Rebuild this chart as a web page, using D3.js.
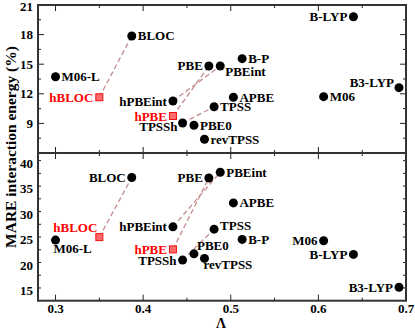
<!DOCTYPE html>
<html>
<head>
<meta charset="utf-8">
<script src="https://cdn.jsdelivr.net/npm/d3@7"></script>
<style>
  body { margin: 0; background: #fff; }
  text { font-family: "Liberation Serif", "Times New Roman", serif; font-weight: bold; }
</style>
</head>
<body>
<div id="chart"></div>
<script>
// methods and their values
const methods = ["M06-L", "BLOC", "hBLOC", "hPBEint", "hPBE", "TPSSh", "PBE0", "revTPSS",
                 "PBE", "PBEint", "B-P", "APBE", "TPSS", "B-LYP", "M06", "B3-LYP"];
const lambdaVals = [0.300, 0.387, 0.350, 0.434, 0.434, 0.445, 0.458, 0.470,
                    0.475, 0.488, 0.513, 0.503, 0.481, 0.640, 0.606, 0.692];
const topVals = [13.73, 17.86, 11.65, 11.27, 9.75, 9.04, 8.81, 7.39,
                 14.82, 14.82, 15.56, 11.65, 10.69, 19.81, 11.71, 12.62];
const bottomVals = [24.9, 37.18, 25.48, 27.5, 23.07, 20.97, 22.2, 21.3,
                    37.1, 38.22, 25.03, 32.2, 27.05, 22.09, 24.76, 15.63];
const hybrids = ["hBLOC", "hPBE"];
const links = [["hBLOC", "BLOC"], ["hPBE", "PBE"], ["hPBEint", "PBEint"], ["TPSSh", "TPSS"]];

const xTicks = [0.3, 0.4, 0.5, 0.6, 0.7];
const topTicks = [9, 12, 15, 18, 21];
const bottomTicks = [15, 20, 25, 30, 35, 40];

// label placement: [dx, dy, anchor]
const R = [6, 4.5, "start"], L = [-6, 4.5, "end"];
const topLabelPos = {
  "M06-L": R, "BLOC": R, "hBLOC": L, "hPBEint": L, "hPBE": L, "TPSSh": [-5, 8, "end"],
  "PBE0": R, "revTPSS": R, "PBE": L, "PBEint": [5, 10, "start"], "B-P": R, "APBE": R,
  "TPSS": R, "B-LYP": L, "M06": R, "B3-LYP": [-5, -1, "end"]
};
const bottomLabelPos = {
  "M06-L": [-2, 13, "start"], "BLOC": L, "hBLOC": [-2, -5, "end"], "hPBEint": L, "hPBE": L,
  "TPSSh": [-6, 4.5, "end"], "PBE0": [3, -4, "start"], "revTPSS": [-1, 11, "start"],
  "PBE": L, "PBEint": R, "B-P": R, "APBE": R, "TPSS": [6, 1, "start"],
  "B-LYP": L, "M06": L, "B3-LYP": L
};

const width = 415, height = 329;
const left = 38, right = 406;
const svg = d3.select("#chart").append("svg").attr("width", width).attr("height", height);

const x = d3.scaleLinear().domain([0.28, 0.70]).range([left, right]);

const panels = [
  { vals: topVals, y: d3.scaleLinear().domain([6, 21]).range([153, 5]), ticks: topTicks, minor: 1.5, pos: topLabelPos },
  { vals: bottomVals, y: d3.scaleLinear().domain([13, 42]).range([300.7, 153]), ticks: bottomTicks, minor: 2.5, pos: bottomLabelPos }
];

const data = methods.map((m, i) => ({ name: m, lam: lambdaVals[i], i }));
const byName = Object.fromEntries(data.map(d => [d.name, d]));

panels.forEach((p, pi) => {
  const g = svg.append("g");
  const [y0, y1] = p.y.range();
  const yMinor = d3.range(p.y.domain()[0], p.y.domain()[1] + 0.01, p.minor);
  const xMinor = d3.range(0.30, 0.701, 0.05);

  // ticks on all four sides, pointing inward
  yMinor.forEach(v => {
    const major = p.ticks.includes(v) ? 6 : 3;
    g.append("line").attr("x1", left).attr("x2", left + major).attr("y1", p.y(v)).attr("y2", p.y(v)).attr("stroke", "#222");
    g.append("line").attr("x1", right).attr("x2", right - major).attr("y1", p.y(v)).attr("y2", p.y(v)).attr("stroke", "#222");
  });
  xMinor.forEach(v => {
    const major = Math.abs(v * 10 - Math.round(v * 10)) < 0.01 ? 6 : 3;
    g.append("line").attr("x1", x(v)).attr("x2", x(v)).attr("y1", y0).attr("y2", y0 - major).attr("stroke", "#222");
    g.append("line").attr("x1", x(v)).attr("x2", x(v)).attr("y1", y1).attr("y2", y1 + major).attr("stroke", "#222");
  });

  // y tick labels
  g.selectAll(".ylab").data(p.ticks).join("text")
    .attr("x", left - 5).attr("y", d => Math.max(p.y(d) + 4.5, 11))
    .attr("text-anchor", "end").attr("font-size", 13).text(d => d);

  // frame
  g.append("rect").attr("x", left).attr("y", y1).attr("width", right - left).attr("height", y0 - y1)
    .attr("fill", "none").attr("stroke", "#333").attr("stroke-width", 2);

  // dashed links
  links.forEach(([a, b]) => {
    const da = byName[a], db = byName[b];
    g.append("line")
      .attr("x1", x(da.lam)).attr("y1", p.y(p.vals[da.i]))
      .attr("x2", x(db.lam)).attr("y2", p.y(p.vals[db.i]))
      .attr("stroke", "#c48c8c").attr("stroke-width", 1.3).attr("stroke-dasharray", "5,3");
  });

  // markers
  g.selectAll(".pt").data(data.filter(d => !hybrids.includes(d.name))).join("circle")
    .attr("cx", d => x(d.lam)).attr("cy", d => p.y(p.vals[d.i])).attr("r", 4.5).attr("fill", "#000");
  g.selectAll(".sq").data(data.filter(d => hybrids.includes(d.name))).join("rect")
    .attr("x", d => x(d.lam) - 3.5).attr("y", d => p.y(p.vals[d.i]) - 3.5)
    .attr("width", 7).attr("height", 7)
    .attr("fill", "#ff6a6a").attr("stroke", "#ee1111").attr("stroke-width", 1);

  // point labels
  g.selectAll(".lab").data(data).join("text")
    .attr("x", d => x(d.lam) + p.pos[d.name][0])
    .attr("y", d => p.y(p.vals[d.i]) + p.pos[d.name][1])
    .attr("text-anchor", d => p.pos[d.name][2])
    .attr("font-size", 13)
    .attr("fill", d => hybrids.includes(d.name) ? "#ff0000" : "#000")
    .text(d => d.name);
});

// x tick labels
svg.selectAll(".xlab").data(xTicks).join("text")
  .attr("x", d => x(d)).attr("y", 313).attr("text-anchor", "middle").attr("font-size", 13)
  .text(d => d);

// axis titles
svg.append("text").attr("x", 221).attr("y", 328).attr("text-anchor", "middle")
  .attr("font-size", 14).text("Λ");
svg.append("text").attr("transform", "translate(16,147) rotate(-90)")
  .attr("text-anchor", "middle").attr("font-size", 15.5).text("MARE interaction energy (%)");
</script>
</body>
</html>
